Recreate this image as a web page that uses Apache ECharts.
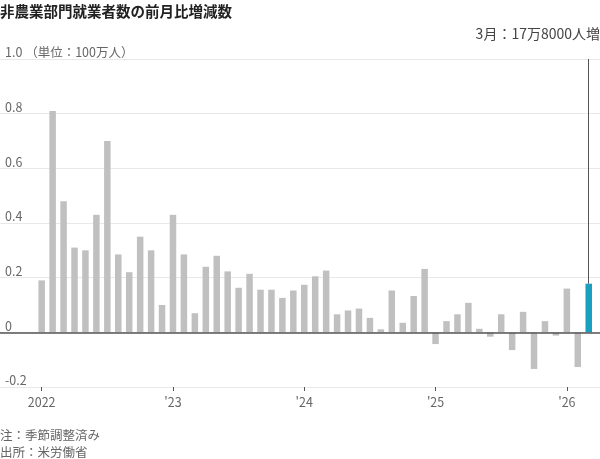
<!DOCTYPE html>
<html lang="ja">
<head>
    <meta charset="UTF-8">
    <title>非農業部門就業者数</title>
    <script src="https://cdn.jsdelivr.net/npm/echarts@6/dist/echarts.min.js"></script>
    <style>
        html, body { margin: 0; padding: 0; background: #fff; }
        #main { width: 600px; height: 459px; }
    </style>
</head>
<body>
<div id="main"></div>
<script type="text/javascript">
    // 2022年1月〜2026年3月 (単位：100万人)
    var months = [];
    for (var y = 2022; y <= 2026; y++) {
        for (var m = 1; m <= 12; m++) {
            if (y === 2026 && m > 3) break;
            months.push(y + '-' + m);
        }
    }
    var values = [
        0.19, 0.81, 0.48, 0.31, 0.30, 0.43, 0.70, 0.285, 0.22, 0.35, 0.30, 0.10,
        0.43, 0.285, 0.07, 0.24, 0.28, 0.223, 0.163, 0.214, 0.156, 0.156, 0.126, 0.153,
        0.174, 0.205, 0.226, 0.066, 0.08, 0.087, 0.053, 0.011, 0.153, 0.035, 0.133, 0.232,
        -0.043, 0.041, 0.066, 0.108, 0.013, -0.016, 0.066, -0.065, 0.075, -0.134, 0.041, -0.012,
        0.160, -0.127, 0.178
    ];
    var yearTicks = [0, 12, 24, 36, 48];
    var yearLabels = ['2022', "'23", "'24", "'25", "'26"];

    var font = '"Noto Sans CJK JP", "Noto Sans", sans-serif';
    var last = values.length - 1;

    var barData = values.map(function (v, i) {
        return {
            value: [i, v],
            itemStyle: { color: i === last ? '#1a9fbf' : '#c0c0c0' }
        };
    });

    var myChart = echarts.init(document.getElementById('main'));
    var option = {
        animation: false,
        textStyle: { fontFamily: font },
        title: [{
            text: '非農業部門就業者数の前月比増減数',
            left: 0,
            top: 4,
            padding: 0,
            textStyle: { fontFamily: font, fontSize: 14.5, fontWeight: 'bold', color: '#222' }
        }, {
            text: '3月：17万8000人増',
            right: 0,
            top: 27,
            padding: 0,
            textStyle: { fontFamily: font, fontSize: 14, fontWeight: 'normal', color: '#444' }
        }, {
            text: '注：季節調整済み\n出所：米労働省',
            left: 0,
            top: 427,
            padding: 0,
            textStyle: { fontFamily: font, fontSize: 12.5, fontWeight: 'normal', color: '#666', lineHeight: 17 }
        }],
        grid: { left: 0, right: 0, top: 59, bottom: 72 },
        xAxis: {
            type: 'value',
            min: -3.81,
            max: 51.03,
            splitLine: { show: false },
            axisLine: { show: false, onZero: false },
            axisTick: {
                show: true,
                customValues: yearTicks,
                length: 4,
                lineStyle: { color: '#555' }
            },
            axisLabel: {
                customValues: yearTicks,
                margin: 9,
                color: '#666',
                fontSize: 12.5,
                fontFamily: font,
                formatter: function (v) {
                    return yearLabels[yearTicks.indexOf(Math.round(v))];
                }
            }
        },
        yAxis: {
            type: 'value',
            min: -0.2,
            max: 1.0,
            interval: 0.2,
            axisLine: { show: false },
            axisTick: { show: false },
            splitLine: { lineStyle: { color: '#e8e8e8', width: 1 } },
            axisLabel: {
                inside: true,
                margin: 5,
                verticalAlign: 'bottom',
                padding: [0, 0, 0, 0],
                color: '#666',
                fontSize: 12.5,
                fontFamily: font,
                formatter: function (v) {
                    var r = Math.round(v * 10) / 10;
                    if (r === 1) return '1.0 （単位：100万人）';
                    if (r === 0) return '0';
                    return r.toFixed(1);
                }
            }
        },
        series: [{
            type: 'bar',
            data: barData,
            barWidth: 6.5,
            z: 3,
            markLine: {
                silent: true,
                symbol: 'none',
                label: { show: false },
                lineStyle: { color: '#555', width: 1, type: 'solid' },
                data: [
                    { yAxis: 0, lineStyle: { color: '#555', width: 1.5, type: 'solid' } },
                    [
                        { coord: [last, 1.0] },
                        { coord: [last, values[last]] }
                    ]
                ]
            }
        }]
    };
    myChart.setOption(option);
</script>
</body>
</html>
